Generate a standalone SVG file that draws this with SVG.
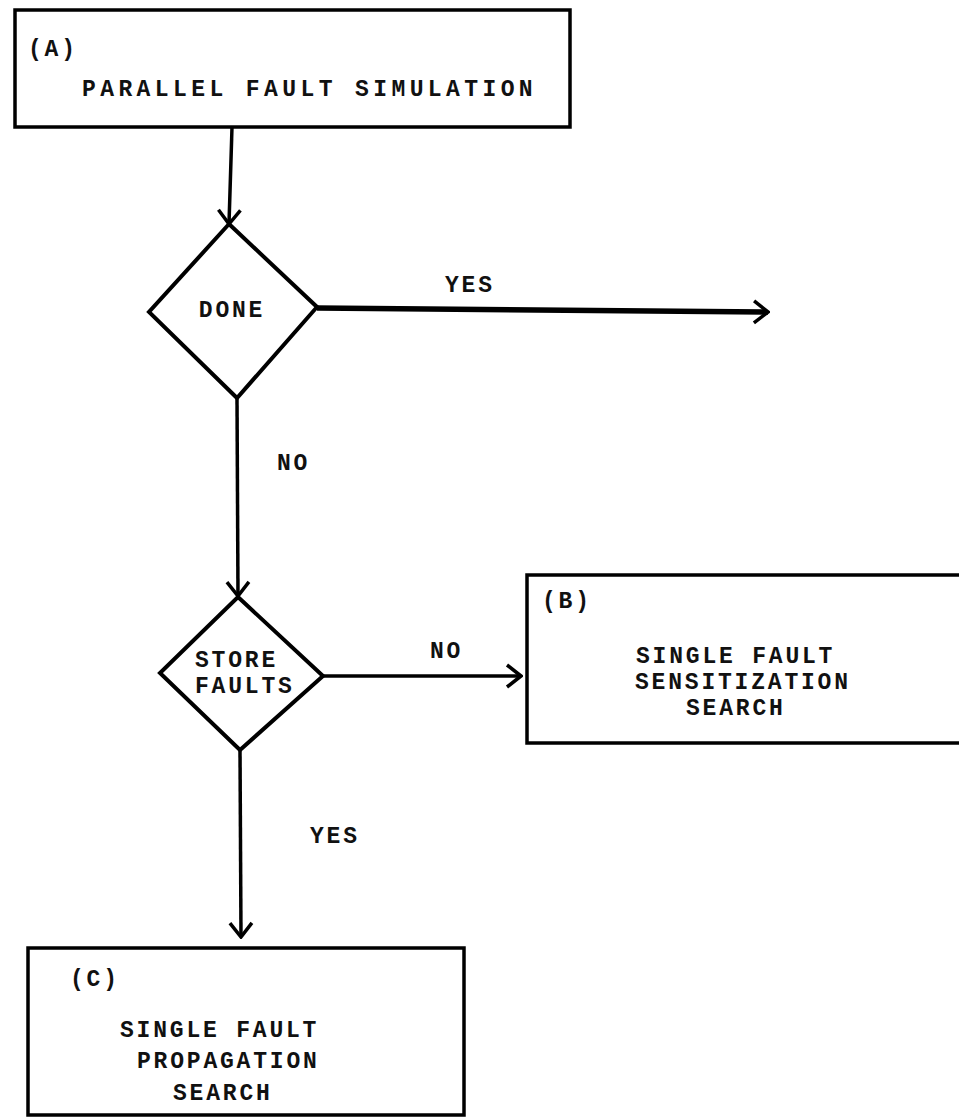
<svg xmlns="http://www.w3.org/2000/svg" width="959" height="1118" viewBox="0 0 959 1118">
<style>
.box{fill:none;stroke:#000;stroke-width:3.5}
.dia{fill:none;stroke:#000;stroke-width:4;stroke-linejoin:miter}
.ln{fill:none;stroke:#000;stroke-width:3.5}
.thick{stroke-width:5.5}
.t{font-family:"Liberation Mono","Courier New",monospace;font-size:23px;font-weight:bold;fill:#111;letter-spacing:2.8px}
.ta{letter-spacing:4.4px}
</style>
<defs>
<marker id="ah" markerUnits="userSpaceOnUse" viewBox="0 0 18 26" markerWidth="18" markerHeight="26" refX="16" refY="13" orient="auto">
<path d="M2,2 L16,13 L2,24" fill="none" stroke="#000" stroke-width="3.5"/>
</marker>
</defs>
<rect width="959" height="1118" fill="#fff"/>
<g id="connectors">
<line class="ln" x1="232" y1="127" x2="229" y2="224" marker-end="url(#ah)"/>
<line class="ln thick" x1="317" y1="308" x2="768" y2="312" marker-end="url(#ah)"/>
<line class="ln" x1="237" y1="398" x2="238" y2="596" marker-end="url(#ah)"/>
<line class="ln" x1="323" y1="676" x2="521" y2="676" marker-end="url(#ah)"/>
<line class="ln" x1="240" y1="750" x2="241" y2="937" marker-end="url(#ah)"/>
<text class="t" x="445" y="292">YES</text>
<text class="t" x="277" y="470">NO</text>
<text class="t" x="430" y="658">NO</text>
<text class="t" x="310" y="843">YES</text>
</g>
<g id="nodeA">
<rect class="box" x="15" y="10" width="555" height="117"/>
<text class="t" x="28" y="56">(A)</text>
<text class="t ta" x="82" y="96">PARALLEL FAULT SIMULATION</text>
</g>
<g id="nodeDone">
<polygon class="dia" points="229,224 317,307 237,398 149,312"/>
<text class="t" x="232" y="317" text-anchor="middle">DONE</text>
</g>
<g id="nodeStore">
<polygon class="dia" points="238,597 323,676 240,750 160,673"/>
<text class="t" x="195" y="667">STORE</text>
<text class="t" x="195" y="693">FAULTS</text>
</g>
<g id="nodeB">
<rect class="box" x="527" y="575" width="440" height="168"/>
<text class="t" x="542" y="608">(B)</text>
<text class="t" x="636" y="663">SINGLE FAULT</text>
<text class="t" x="635" y="689">SENSITIZATION</text>
<text class="t" x="686" y="715">SEARCH</text>
</g>
<g id="nodeC">
<rect class="box" x="28" y="948" width="436" height="167"/>
<text class="t" x="70" y="986">(C)</text>
<text class="t" x="120" y="1037">SINGLE FAULT</text>
<text class="t" x="137" y="1068">PROPAGATION</text>
<text class="t" x="173" y="1100">SEARCH</text>
</g>
</svg>
